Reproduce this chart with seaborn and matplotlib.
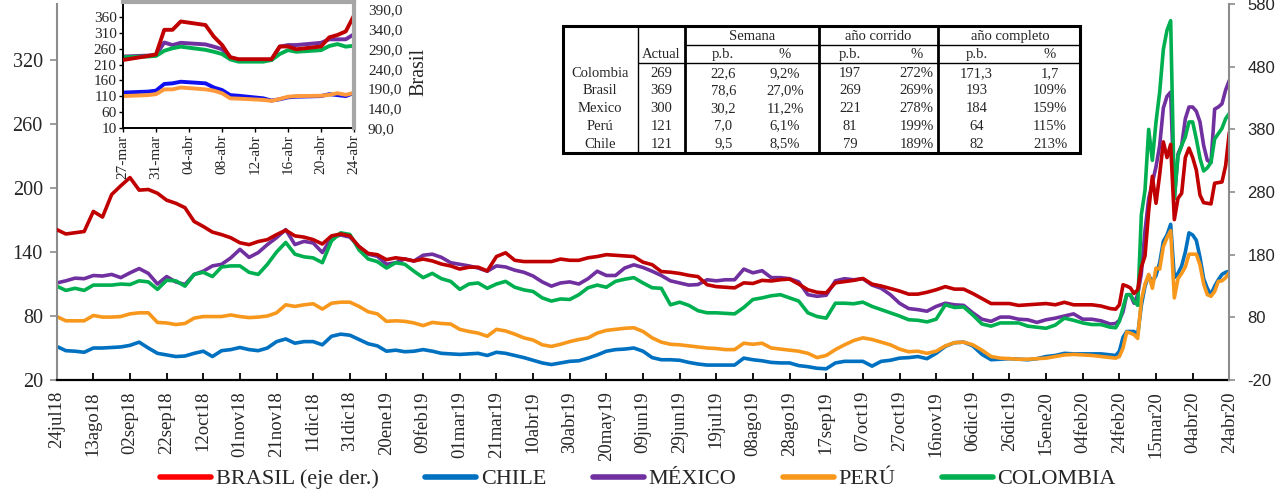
import pandas as pd
import matplotlib
matplotlib.use("Agg")
import matplotlib.pyplot as plt
from matplotlib.lines import Line2D
from matplotlib.patches import Rectangle
import seaborn as sns

W, H = 1276, 491

# ---------------- data: main chart (CDS, p.b.) ----------------
BASE_DATE = "2018-07-24"
day_offsets = list(range(0, 576, 5)) + list(range(578, 641, 2))

brasil = [
    220, 213, 215, 217, 249, 240, 276, 290, 303, 283,
    284, 278, 267, 262, 255, 233, 225, 216, 212, 207,
    199, 196, 201, 204, 212, 219, 210, 208, 204, 197,
    210, 213, 210, 193, 182, 180, 172, 175, 173, 170,
    173, 170, 165, 162, 157, 160, 160, 154, 177, 183,
    171, 169, 169, 169, 169, 173, 171, 171, 175, 177,
    180, 179, 178, 177, 168, 164, 153, 152, 150, 147,
    145, 132, 129, 128, 127, 135, 134, 139, 138, 140,
    141, 133, 124, 120, 119, 135, 137, 139, 142, 133,
    130, 126, 122, 117, 117, 120, 124, 129, 125, 125,
    118, 110, 102, 102, 102, 99, 100, 101, 102, 100,
    104, 100, 100, 100, 98, 94,
    93, 100, 132, 130, 127, 118, 124, 160, 178, 250,
    305, 262, 308, 360, 335, 356, 236, 270, 278, 335,
    350, 335, 315, 275, 263, 262, 261, 294, 295, 296,
    322, 375]

mexico = [
    111, 113, 115.5, 115, 118, 117.5, 119, 116, 120.5, 124.5,
    120, 110, 117, 112, 109.5, 119, 122, 127, 128.5, 134.5,
    142.5, 135, 139.5, 147, 153.5, 161, 147, 150, 148.5, 139.5,
    153.5, 156, 154, 145, 138, 136, 128.5, 130, 133.5, 131.5,
    137, 138, 135, 130, 128.5, 127, 125, 122, 127, 126,
    123, 121, 117.5, 112, 108, 111, 112, 110, 115, 122,
    118, 118, 125, 128, 125.5, 122, 118, 113, 111, 109,
    109.5, 114, 113, 114, 114, 124, 120.5, 122.5, 116, 116,
    115, 112, 100, 98.5, 99.5, 113, 115, 114, 115, 109,
    106, 100, 92, 87, 86, 84.5, 89, 92, 90.5, 90,
    83, 77, 75, 79, 79, 77, 76.5, 74, 76.5, 78,
    80, 82, 77, 77, 75.5, 72.5,
    73, 76, 84, 100, 100, 92, 100, 120, 160, 190,
    205, 220, 240, 275, 286, 290, 190, 232, 240, 265,
    276, 276, 272, 262, 240, 226, 224, 274, 276, 279,
    292, 301]

colombia = [
    108, 104, 106, 104, 109, 109, 109, 110, 109.5, 113,
    112, 105, 113.5, 113, 108, 119, 121, 117, 126, 127,
    127, 121, 119, 128.5, 140, 149, 138, 135.5, 134.5, 130,
    150.5, 158, 156.5, 142, 133.5, 131, 125, 130, 128.5, 122,
    116, 120, 115, 112.5, 105, 110, 111, 106, 110, 112.5,
    107, 104.5, 103, 97, 94, 96, 95.5, 100, 106.5, 109,
    107, 112.5, 114.5, 116, 111, 106.5, 106, 90.5, 93, 90,
    85, 83, 83, 82.5, 82, 88, 95.5, 97, 99, 100,
    97, 94, 83, 79.5, 78, 92, 92, 91.5, 93, 89,
    86, 83, 80, 76.5, 76, 74.5, 77, 90.5, 88, 88.5,
    81, 72.5, 70.5, 73.5, 73.5, 73.5, 70.5, 69.5, 68.5, 71.5,
    78, 76, 73.5, 72, 72, 69.5,
    69, 75, 88, 100, 100, 94, 90, 175, 198, 255,
    226, 262, 290, 330, 348, 357, 190, 230, 240, 248,
    262, 262, 246, 228, 216, 219, 224, 246, 251, 256,
    265, 270]

peru = [
    79.5, 75.5, 75.5, 75.5, 80.5, 79, 79, 79.5, 82, 83,
    83, 74, 73.5, 72, 73, 78, 79.5, 79.5, 79.5, 81,
    79.5, 78.5, 79, 80, 83, 90.5, 89, 90.5, 91.5, 86.5,
    92, 93, 93, 89, 84, 82, 75, 75.5, 75, 73.5,
    71, 74, 73, 72.5, 67.5, 65.5, 64, 61, 67.5, 66,
    63, 59.5, 57.5, 53, 51.5, 53.5, 56, 58, 59.5, 64,
    66.5, 67.5, 68.5, 69, 65.5, 59.5, 55.5, 53.5, 53, 52,
    51, 50, 49.5, 48.5, 48.5, 54.5, 53.5, 54.5, 50, 49,
    48, 47, 45, 41, 43, 48.5, 53, 57, 59.5, 58,
    55.5, 53, 49, 46.5, 47, 45, 47, 52, 55, 55.5,
    53, 48, 42, 40.5, 40, 39.5, 39.5, 40, 40.5, 42,
    43.5, 44, 43.5, 43, 42, 41,
    40.5, 42, 50, 65, 64, 62.5, 59, 95, 110, 119,
    106, 125, 124, 145, 153.5, 160, 97, 115, 120, 126,
    138, 138, 138, 128, 110, 100, 98.5, 103, 112.5, 113,
    116, 121]

chile = [
    51.5, 47.5, 47, 46, 50, 50, 50.5, 51, 52.5, 55.5,
    50, 45, 43.5, 42, 42.5, 45, 47, 42, 47.5, 48.5,
    50.5, 48.5, 47.5, 50, 56, 58.5, 54.5, 56, 56, 53,
    61, 63, 62, 58, 54, 52, 47, 48, 46.5, 47,
    48.5, 47, 45, 44.5, 44, 44.5, 45, 43, 46, 45,
    43, 41, 38.5, 36, 34.5, 36, 37.5, 38, 40.5, 43.5,
    47, 48.5, 49, 50, 47, 41, 39, 39, 38.5, 36.5,
    35, 34, 34, 34, 34, 40.5, 39, 38, 36.5, 36,
    36, 33.5, 32.5, 31, 30.5, 36, 37.5, 37.5, 37.5, 33,
    37.5, 38.5, 40.5, 41, 42, 40, 45, 51.5, 55, 55.5,
    52, 44, 39, 39.5, 40, 39.5, 39, 40, 42, 43,
    45, 44.5, 44.5, 44.5, 44.5, 43.5,
    43, 47, 60, 65.5, 65.5, 65.5, 62.5, 90, 108, 118,
    112, 118, 130, 150, 156, 166, 116, 120, 127, 140,
    158, 156, 151, 135, 115, 106, 100, 108, 114, 119,
    121, 122]

# ---------------- data: inset (last month) ----------------
in_fechas = ["2020-03-27", "2020-03-30", "2020-03-31", "2020-04-01", "2020-04-02",
             "2020-04-03", "2020-04-06", "2020-04-07", "2020-04-08", "2020-04-09",
             "2020-04-10", "2020-04-13", "2020-04-14", "2020-04-15", "2020-04-16",
             "2020-04-17", "2020-04-20", "2020-04-21", "2020-04-22", "2020-04-23",
             "2020-04-24"]
in_brasil = [262, 272, 276, 338, 338, 359, 350, 321, 300, 269, 264, 264, 264, 296, 296, 289, 296, 319, 325, 334, 374]
in_mexico = [235, 238, 240, 279, 271, 278, 273, 266, 258, 233, 224, 224, 224, 266, 271, 271, 278, 289, 289, 289, 305]
in_colombia = [233, 235, 237, 253, 261, 266, 256, 250, 243, 226, 219, 219, 224, 243, 255, 250, 255, 268, 274, 266, 269]
in_chile = [122, 125, 128, 149, 151, 156, 151, 138, 130, 114, 112, 104, 97, 101, 107, 109, 111, 117, 114, 111, 121]
in_peru = [111, 114, 117, 132, 132, 138, 132, 128, 120, 104, 103, 99, 96, 102, 109, 111, 112, 115, 120, 115, 121]

# ---------------- data: table ----------------
tab_paises = ["Colombia", "Brasil", "Mexico", "Perú", "Chile"]
tab_actual = ["269", "369", "300", "121", "121"]
tab_sem_pb = ["22,6", "78,6", "30,2", "7,0", "9,5"]
tab_sem_pct = ["9,2%", "27,0%", "11,2%", "6,1%", "8,5%"]
tab_cor_pb = ["197", "269", "221", "81", "79"]
tab_cor_pct = ["272%", "269%", "278%", "199%", "189%"]
tab_com_pb = ["171,3", "193", "184", "64", "82"]
tab_com_pct = ["1,7", "109%", "159%", "115%", "213%"]

MESES = ["ene", "feb", "mar", "abr", "may", "jun", "jul", "ago", "sep", "oct", "nov", "dic"]

for s in (brasil, mexico, colombia, peru, chile):
    assert len(s) == len(day_offsets), len(s)

# ---------------- style ----------------
sns.set_theme(style="ticks")
plt.rcParams["font.family"] = ["Liberation Serif", "DejaVu Serif"]
plt.rcParams["axes.unicode_minus"] = False

COL = {"BRASIL": "#C00000", "CHILE": "#0070C0", "MÉXICO": "#7030A0",
       "PERÚ": "#F7981D", "COLOMBIA": "#00B050"}
COL_IN = {"BRASIL": "#C00000", "CHILE": "#1010F0", "MÉXICO": "#7030A0",
          "PERÚ": "#FF9A3C", "COLOMBIA": "#00B050"}
ORDER = ["CHILE", "MÉXICO", "PERÚ", "COLOMBIA"]
GRAY = "#8C8C8C"

fechas = pd.Timestamp(BASE_DATE) + pd.to_timedelta(day_offsets, unit="D")
df_left = pd.concat([
    pd.DataFrame({"fecha": fechas, "pais": name, "valor": vals})
    for name, vals in [("CHILE", chile), ("MÉXICO", mexico), ("PERÚ", peru), ("COLOMBIA", colombia)]
], ignore_index=True)
df_br = pd.DataFrame({"fecha": fechas, "valor": brasil})

fig = plt.figure(figsize=(W / 100, H / 100), dpi=100)
fig.patch.set_facecolor("white")

# ---------------- main chart ----------------
ax = fig.add_axes([56.7 / W, 1 - 380 / H, (1229.3 - 56.7) / W, 376 / H])
sns.lineplot(data=df_left, x="fecha", y="valor", hue="pais", hue_order=ORDER,
             palette=COL, linewidth=2.6, legend=False, ax=ax)
ax2 = ax.twinx()
sns.lineplot(data=df_br, x="fecha", y="valor", color=COL["BRASIL"], linewidth=2.6,
             legend=False, ax=ax2)

ax.set_xlim(fechas[0], fechas[-1])
ax.set_ylim(20, 372.6)
ax2.set_ylim(-20, 580)
ax.set_yticks(range(20, 321, 60))
ax2.set_yticks(range(-20, 581, 100))
xt = pd.date_range(BASE_DATE, periods=33, freq="20D")
ax.set_xticks(xt)
ax.set_xticklabels([f"{d.day:02d}{MESES[d.month - 1]}{d.year % 100:02d}" for d in xt])
for a in (ax, ax2):
    a.set_xlabel("")
    a.set_ylabel("")
    a.grid(False)

ax.tick_params(axis="x", direction="in", length=5, width=1.3, color="black",
               labelsize=13.5, labelrotation=90, pad=8)
ax.tick_params(axis="y", direction="out", length=5, width=1.2, color=GRAY,
               labelsize=14.5, pad=5)
ax2.tick_params(axis="y", direction="out", length=4, width=1.2, color=GRAY,
                labelsize=12, pad=9)
for lab in ax2.get_yticklabels():
    lab.set_fontfamily(["Liberation Sans", "DejaVu Sans"])

ax.spines["top"].set_visible(False)
ax.spines["right"].set_visible(False)
ax.spines["left"].set_color(GRAY)
ax.spines["left"].set_linewidth(1.5)
ax.spines["bottom"].set_color("black")
ax.spines["bottom"].set_linewidth(1.6)
for sp in ("top", "left", "bottom"):
    ax2.spines[sp].set_visible(False)
ax2.spines["right"].set_color(GRAY)
ax2.spines["right"].set_linewidth(1.5)

# ---------------- inset ----------------
df_in = pd.concat([
    pd.DataFrame({"fecha": pd.to_datetime(in_fechas), "pais": name, "valor": vals})
    for name, vals in [("CHILE", in_chile), ("MÉXICO", in_mexico), ("PERÚ", in_peru), ("COLOMBIA", in_colombia)]
], ignore_index=True)
df_in_br = pd.DataFrame({"fecha": pd.to_datetime(in_fechas), "valor": in_brasil})

axi = fig.add_axes([123 / W, 1 - 128.3 / H, (354 - 123) / W, 126.3 / H])
axi.set_zorder(5)
axi.set_facecolor("white")
sns.lineplot(data=df_in, x="fecha", y="valor", hue="pais", hue_order=ORDER,
             palette=COL_IN, linewidth=2.8, legend=False, ax=axi)
axi2 = axi.twinx()
axi2.set_zorder(6)
axi2.patch.set_visible(False)
sns.lineplot(data=df_in_br, x="fecha", y="valor", color=COL_IN["BRASIL"], linewidth=2.8,
             legend=False, ax=axi2)

axi.set_xlim(pd.Timestamp("2020-03-27"), pd.Timestamp("2020-04-24"))
axi.set_ylim(10, 406)
axi2.set_ylim(90, 408)
axi.set_yticks(range(10, 361, 50))
rt = list(range(90, 391, 50))
axi2.set_yticks(rt)
axi2.set_yticklabels([f"{v},0" for v in rt])
it = pd.date_range("2020-03-27", "2020-04-24", freq="4D")
axi.set_xticks(it)
axi.set_xticklabels([f"{d.day:02d}-{MESES[d.month - 1]}" for d in it])
for a in (axi, axi2):
    a.set_xlabel("")
    a.set_ylabel("")
    a.grid(False)
axi.tick_params(axis="x", direction="out", length=3, width=1, labelsize=11,
                labelrotation=90, pad=1.5, color="black")
axi.tick_params(axis="y", direction="out", length=3, width=1, labelsize=11, pad=1.5,
                color="black")
axi2.tick_params(axis="y", length=0, labelsize=11, pad=10)
axi.spines["left"].set_color("black")
axi.spines["left"].set_linewidth(1.4)
axi.spines["bottom"].set_color("black")
axi.spines["bottom"].set_linewidth(1.4)
axi.spines["top"].set_color("#A6A6A6")
axi.spines["top"].set_linewidth(3)
axi.spines["right"].set_visible(False)
for sp in ("top", "left", "bottom"):
    axi2.spines[sp].set_visible(False)
axi2.spines["right"].set_color("#A6A6A6")
axi2.spines["right"].set_linewidth(3)
fig.text(419 / W, 1 - 72 / H, "Brasil", rotation=90, fontsize=14.5,
         ha="center", va="center")

# ---------------- table ----------------
tab = fig.add_axes([0, 0, 1, 1], zorder=10)
tab.set_xlim(0, W)
tab.set_ylim(H, 0)
tab.axis("off")
tab.patch.set_visible(False)
x0, x1, y0, y1 = 562.7, 1080, 26, 153.3
tab.add_patch(Rectangle((x0, y0), x1 - x0, y1 - y0, facecolor="white",
                        edgecolor="black", linewidth=2.2))
tab.vlines(637.7, y0, y1, color="black", linewidth=1)
for xv in (685, 819.3, 938.3):
    tab.vlines(xv, y0, y1, color="black", linewidth=2)
tab.hlines(45, 685, x1, color="black", linewidth=1)
tab.hlines(63.3, 637.7, x1, color="black", linewidth=1)

fs = 10.5
for txt, xc in (("Semana", 751.7), ("año corrido", 878.3), ("año completo", 1010)):
    tab.text(xc, 36.2, txt, ha="center", va="center", fontsize=fs)
col_x = [600, 661.3, 723.3, 785, 850, 916.7, 976.7, 1050]
for txt, xc in zip(["Actual", "p.b.", "%", "p.b.", "%", "p.b.", "%"], col_x[1:]):
    tab.text(xc, 54.6, txt, ha="center", va="center", fontsize=fs)
row_y = [73.3, 90.7, 108.3, 126, 144]
cols = [tab_paises, tab_actual, tab_sem_pb, tab_sem_pct, tab_cor_pb,
        tab_cor_pct, tab_com_pb, tab_com_pct]
for ci, col in enumerate(cols):
    for ri, txt in enumerate(col):
        tab.text(col_x[ci], row_y[ri], txt, ha="center", va="center", fontsize=fs)

# ---------------- legend ----------------
leg_names = ["BRASIL (eje der.)", "CHILE", "MÉXICO", "PERÚ", "COLOMBIA"]
leg_cols = ["#FF0000", COL["CHILE"], COL["MÉXICO"], COL["PERÚ"], COL["COLOMBIA"]]
handles = [Line2D([0], [0], color=c, linewidth=4) for c in leg_cols]
fig.legend(handles, leg_names, loc="center", bbox_to_anchor=(0.5, 1 - 479 / H),
           ncol=5, frameon=False, fontsize=16, handlelength=2.3,
           handletextpad=0.2, columnspacing=2.1)

fig.savefig("out.png", dpi=100, facecolor="white")
